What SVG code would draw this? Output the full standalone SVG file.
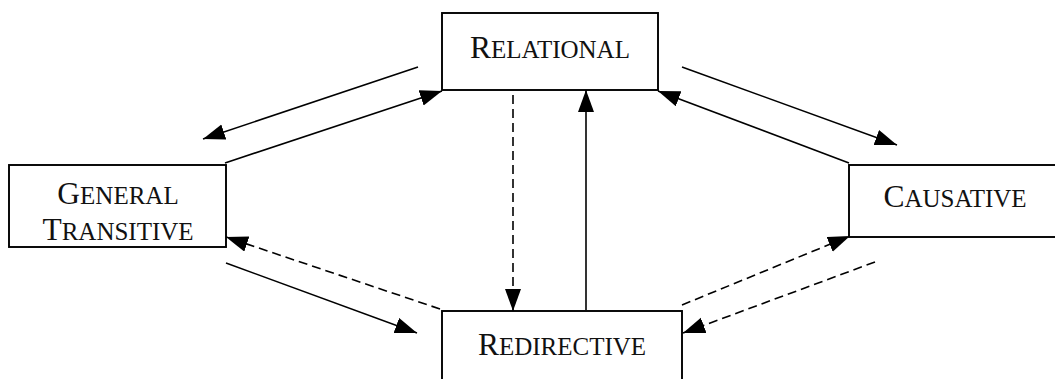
<svg xmlns="http://www.w3.org/2000/svg" width="1055" height="379" viewBox="0 0 1055 379">
<style>
.box{fill:#fff;stroke:#000;stroke-width:1.9}
.lbl{font-family:"Liberation Serif","Times New Roman",serif;font-size:31.5px;fill:#111;text-anchor:middle}
.sc{font-size:25px}
.ln{fill:none;stroke:#000;stroke-width:1.6;marker-end:url(#ah)}
.dash{stroke-dasharray:9,5}
</style>
<defs>
<marker id="ah" markerUnits="userSpaceOnUse" markerWidth="24" markerHeight="18" refX="22" refY="8" orient="auto">
<path d="M0,0 L22,8 L0,16 z" fill="#000"/>
</marker>
</defs>
<rect width="1055" height="379" fill="#fff"/>
<g id="connectors">
<line class="ln" x1="418" y1="67" x2="203" y2="139"/>
<line class="ln" x1="225" y1="163" x2="442" y2="91"/>
<line class="ln" x1="682" y1="67" x2="897" y2="145"/>
<line class="ln" x1="849" y1="163" x2="658" y2="91"/>
<line class="ln dash" x1="513" y1="95" x2="513" y2="311"/>
<line class="ln" x1="586" y1="310" x2="586" y2="90"/>
<line class="ln dash" x1="440" y1="309" x2="226" y2="237"/>
<line class="ln" x1="226" y1="263" x2="417" y2="333"/>
<line class="ln dash" x1="682" y1="305" x2="850" y2="236"/>
<line class="ln dash" x1="875" y1="262" x2="683" y2="333"/>
</g>
<g id="relational">
<rect class="box" x="442" y="13" width="216" height="77"/>
<text class="lbl" x="550" y="58">R<tspan class="sc">ELATIONAL</tspan></text>
</g>
<g id="general-transitive">
<rect class="box" x="9" y="165" width="217" height="82"/>
<text class="lbl" x="118" y="204">G<tspan class="sc">ENERAL</tspan></text>
<text class="lbl" x="118" y="240">T<tspan class="sc">RANSITIVE</tspan></text>
</g>
<g id="causative">
<rect class="box" x="849" y="165" width="214" height="72"/>
<text class="lbl" x="955" y="207">C<tspan class="sc">AUSATIVE</tspan></text>
</g>
<g id="redirective">
<rect class="box" x="442" y="311" width="240" height="80"/>
<text class="lbl" x="562" y="355">R<tspan class="sc">EDIRECTIVE</tspan></text>
</g>
</svg>
